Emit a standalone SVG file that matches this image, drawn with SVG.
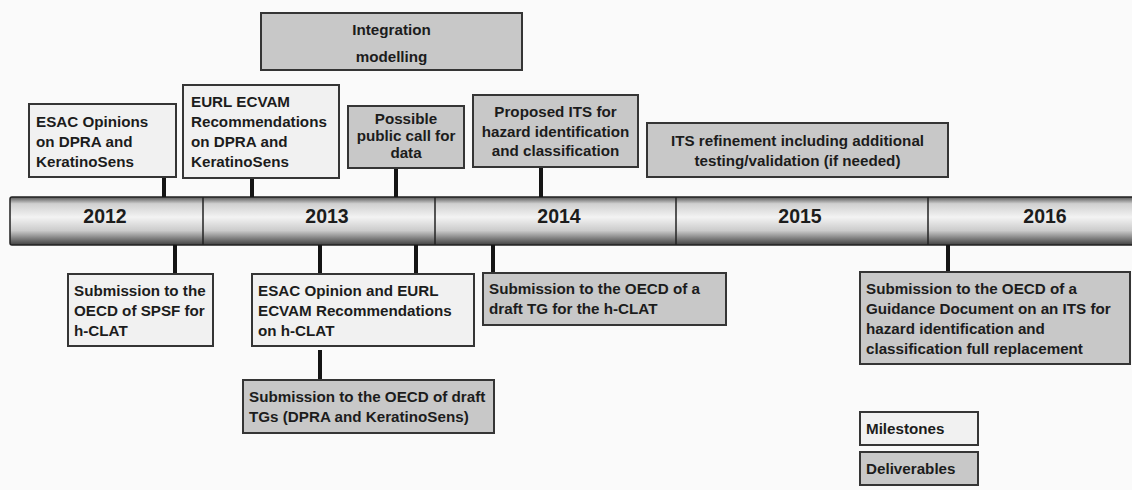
<svg xmlns="http://www.w3.org/2000/svg" width="1132" height="490" viewBox="0 0 1132 490">
<defs>
<linearGradient id="bar" x1="0" y1="0" x2="0" y2="1">
<stop offset="0" stop-color="#555"/>
<stop offset="0.14" stop-color="#cfcfcf"/>
<stop offset="0.42" stop-color="#f3f3f3"/>
<stop offset="0.7" stop-color="#cbcbcb"/>
<stop offset="1" stop-color="#404040"/>
</linearGradient>
<style>
.ms{fill:#f1f1f1;stroke:#353535;stroke-width:2}
.dl{fill:#c8c8c8;stroke:#353535;stroke-width:2}
.t{font-family:"Liberation Sans",Arial,sans-serif;font-weight:bold;font-size:15.2px;fill:#1c1c1c}
.c{text-anchor:middle}
.yr{font-family:"Liberation Sans",Arial,sans-serif;font-weight:bold;font-size:19.5px;fill:#1c1c1c;text-anchor:middle}
.conn line{stroke:#141414;stroke-width:4}
.div{stroke:#222;stroke-width:1.5}
</style>
</defs>
<rect width="1132" height="490" fill="#fafafa"/>

<g id="timeline">
<rect x="10" y="197" width="1130" height="48" rx="2" fill="url(#bar)" stroke="#222" stroke-width="1.5"/>
<line class="div" x1="203" y1="197" x2="203" y2="245"/>
<line class="div" x1="435" y1="197" x2="435" y2="245"/>
<line class="div" x1="676" y1="197" x2="676" y2="245"/>
<line class="div" x1="928" y1="197" x2="928" y2="245"/>
<text class="yr" x="105" y="223">2012</text>
<text class="yr" x="327" y="223">2013</text>
<text class="yr" x="559" y="223">2014</text>
<text class="yr" x="800" y="223">2015</text>
<text class="yr" x="1045" y="223">2016</text>
</g>

<g class="conn" id="connectors">
<line x1="164" y1="177" x2="164" y2="197"/>
<line x1="252" y1="178" x2="252" y2="197"/>
<line x1="396" y1="168" x2="396" y2="197"/>
<line x1="541" y1="167" x2="541" y2="197"/>
<line x1="175" y1="245" x2="175" y2="274"/>
<line x1="320" y1="245" x2="320" y2="274"/>
<line x1="416" y1="245" x2="416" y2="274"/>
<line x1="320" y1="350" x2="320" y2="380"/>
<line x1="493" y1="245" x2="493" y2="273"/>
<line x1="948" y1="245" x2="948" y2="272"/>
</g>

<g id="integration">
<rect class="dl" x="261" y="13" width="261" height="57"/>
<text class="t c" x="391.5" y="35">Integration</text>
<text class="t c" x="391.5" y="62">modelling</text>
</g>

<g id="esac-opinions">
<rect class="ms" x="29" y="104" width="147" height="73"/>
<text class="t" x="36" y="127">ESAC Opinions</text>
<text class="t" x="36" y="147">on DPRA and</text>
<text class="t" x="36" y="167">KeratinoSens</text>
</g>

<g id="eurl-recommendations">
<rect class="ms" x="183" y="85" width="156" height="93"/>
<text class="t" x="191" y="107">EURL ECVAM</text>
<text class="t" x="191" y="127">Recommendations</text>
<text class="t" x="191" y="147">on DPRA and</text>
<text class="t" x="191" y="167">KeratinoSens</text>
</g>

<g id="public-call">
<rect class="dl" x="348" y="106" width="116" height="62"/>
<text class="t c" x="406" y="124">Possible</text>
<text class="t c" x="406" y="141">public call for</text>
<text class="t c" x="406" y="158">data</text>
</g>

<g id="proposed-its">
<rect class="dl" x="473" y="95" width="165" height="72"/>
<text class="t c" x="555.5" y="117">Proposed ITS for</text>
<text class="t c" x="555.5" y="137">hazard identification</text>
<text class="t c" x="555.5" y="156">and classification</text>
</g>

<g id="its-refinement">
<rect class="dl" x="647" y="123" width="301" height="54"/>
<text class="t c" x="797.5" y="146">ITS refinement including additional</text>
<text class="t c" x="797.5" y="166">testing/validation (if needed)</text>
</g>

<g id="spsf">
<rect class="ms" x="68" y="274" width="145" height="72"/>
<text class="t" x="74" y="296">Submission to the</text>
<text class="t" x="74" y="316">OECD of SPSF for</text>
<text class="t" x="74" y="336">h-CLAT</text>
</g>

<g id="esac-hclat">
<rect class="ms" x="252" y="274" width="222" height="72"/>
<text class="t" x="258" y="296">ESAC Opinion and EURL</text>
<text class="t" x="258" y="316">ECVAM Recommendations</text>
<text class="t" x="258" y="336">on h-CLAT</text>
</g>

<g id="draft-tgs">
<rect class="dl" x="243" y="380" width="251" height="53"/>
<text class="t" x="249" y="402">Submission to the OECD of draft</text>
<text class="t" x="249" y="422">TGs (DPRA and KeratinoSens)</text>
</g>

<g id="draft-tg-hclat">
<rect class="dl" x="483" y="273" width="243" height="52"/>
<text class="t" x="489" y="294">Submission to the OECD of a</text>
<text class="t" x="489" y="314">draft TG for the h-CLAT</text>
</g>

<g id="guidance">
<rect class="dl" x="860" y="272" width="270" height="92"/>
<text class="t" x="866" y="294">Submission to the OECD of a</text>
<text class="t" x="866" y="314">Guidance Document on an ITS for</text>
<text class="t" x="866" y="334">hazard identification and</text>
<text class="t" x="866" y="354">classification full replacement</text>
</g>

<g id="legend-milestones">
<rect class="ms" x="860" y="412" width="118" height="33"/>
<text class="t" x="866" y="434">Milestones</text>
</g>

<g id="legend-deliverables">
<rect class="dl" x="860" y="452" width="118" height="33"/>
<text class="t" x="866" y="474">Deliverables</text>
</g>
</svg>
